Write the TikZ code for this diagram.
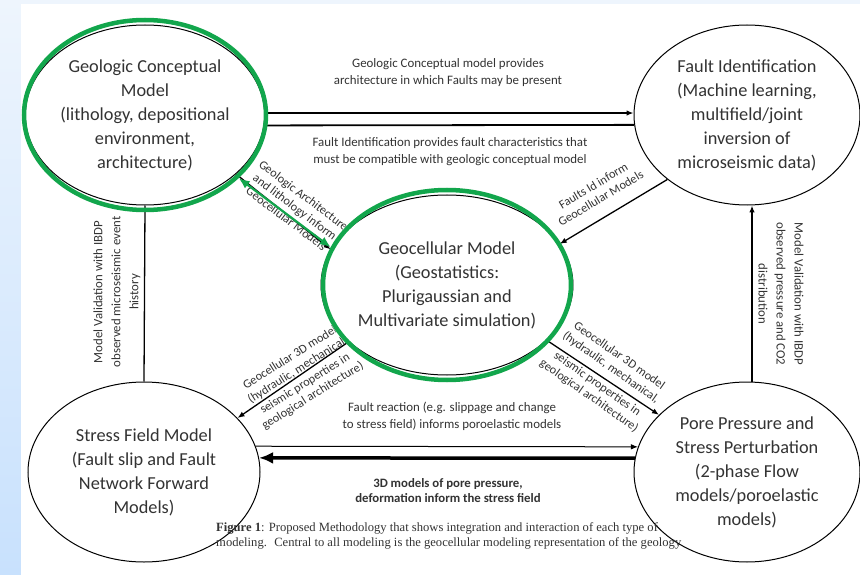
\documentclass[tikz,border=0pt]{standalone}
\usepackage{fontspec}
\setmainfont{Carlito}
\newfontfamily\capfont{Liberation Serif}
\usetikzlibrary{shapes.geometric, arrows.meta}

\definecolor{ringgreen}{RGB}{18,166,76}
\definecolor{txtgray}{HTML}{333333}
\definecolor{bgtop}{HTML}{EEF5FD}
\definecolor{bgbot}{HTML}{C8E1FD}

\tikzset{
  model/.style={draw, ellipse, line width=1pt, fill=white, text=txtgray, align=center,
    inner sep=0pt, minimum width=232pt, minimum height=180pt,
    font=\fontsize{18.3}{24}\selectfont},
  ring/.style={draw=ringgreen, ellipse, line width=4.5pt, inner sep=0pt},
  link/.style={->, line width=1.3pt},
  bigarrow/.style={{Latex[length=14pt, width=12pt]}-, line width=3.5pt},
  greenarrow/.style={{Latex[length=11pt, width=9pt]}-{Latex[length=11pt, width=9pt]}, draw=ringgreen, line width=2.2pt},
  lbl/.style={text=txtgray, align=center, inner sep=0pt, font=\fontsize{12.9}{17}\selectfont},
  dlbl/.style={text=txtgray, align=center, inner sep=0pt, font=\fontsize{12.3}{14.5}\selectfont},
}

\begin{document}
\begin{tikzpicture}[x=1pt, y=-1pt, >={Latex[length=7pt, width=5.5pt]}]
    % Background
    \useasboundingbox (0,0) rectangle (860,575);
    \shade[top color=bgtop, bottom color=bgbot] (0,0) rectangle (860,575);
    \fill[white] (21,4) rectangle (860,575);

    % Labels partly hidden behind the geocellular model
    \node[dlbl, rotate=-37] (lbl3) at (295,207) {Geologic Architecture\\and lithology inform\\Geocellular Models};
    \node[dlbl, rotate=32] (lbl7a) at (294,364) {Geocellular 3D model\\(hydraulic, mechanical,};
    \fill[white] (447,285) ellipse [x radius=126.5, y radius=97.5];

    % Models
    \node[model] (gc) at (145,115) {Geologic Conceptual\\Model\\(lithology, depositional\\environment,\\architecture)};
    \node[model, minimum width=226pt] (fi) at (747,115) {Fault Identification\\(Machine learning,\\multifield/joint\\inversion of\\microseismic data)};
    \node[model] (gm) at (447,285) {Geocellular Model\\(Geostatistics:\\Plurigaussian and\\Multivariate simulation)};
    \node[model] (sf) at (144,472) {Stress Field Model\\(Fault slip and Fault\\Network Forward\\Models)};
    \node[model, minimum width=226pt] (pp) at (747,472) {Pore Pressure and\\Stress Perturbation\\(2-phase Flow\\models/poroelastic\\models)};

    % Connectors
    \draw[link, line width=1.8pt] (gc.1) -- (fi.179);
    \draw[line width=1.8pt] (gc.-5) -- (fi.185);
    \draw[link] (gc.-33) -- (gm.163);
    \draw[link] (fi.219) -- (gm.20);
    \draw[line width=1.3pt] (gc.south) -- (sf.north);
    \draw[link] ([xshift=5pt]pp.north) -- ([xshift=5pt]fi.south);
    \draw[link] (gm.210) -- (sf.30);
    \draw[link] (gm.-29) -- (pp.147);
    \draw[link, line width=1pt] (sf.13) -- (pp.167);
    \draw[bigarrow] (sf.7) -- (pp.173);

    % Connector labels
    \node[lbl] (lbl1) at (448,73) {Geologic Conceptual model provides\\architecture in which Faults may be present};
    \node[lbl] (lbl2) at (450,152) {Fault Identification provides fault characteristics that\\must be compatible with geologic conceptual model};
    \node[dlbl, rotate=31] (lbl4) at (597,192) {Faults Id inform\\Geocellular Models};
    \node[lbl, rotate=90, font=\fontsize{12.8}{18}\selectfont] (lbl5) at (117,292) {Model Validation with IBDP\\observed microseismic event\\history};
    \node[lbl, rotate=-90, font=\fontsize{12.8}{18}\selectfont] (lbl6) at (781,294) {Model Validation with IBDP\\observed pressure and CO2\\distribution};
    \node[dlbl, rotate=32] (lbl7b) at (309,390) {seismic properties in\\geological architecture)};
    \node[dlbl, rotate=-35] (lbl8a) at (615,362) {Geocellular 3D model\\(hydraulic, mechanical,};
    \node[dlbl, rotate=-35] (lbl8b) at (593,390) {seismic properties in\\geological architecture)};
    \node[lbl] (lbl9) at (452,416) {Fault reaction (e.g. slippage and change\\to stress field) informs poroelastic models};
    \node[lbl, font=\bfseries\fontsize{12.8}{15.5}\selectfont] (lbl10) at (448,490.5) {3D models of pore pressure,\\deformation inform the stress field};

    % Caption
    \node[anchor=west, align=left, inner sep=0pt, text=txtgray, font=\capfont\fontsize{12.6}{15}\selectfont] (caption) at (216,535.5)
      {\textbf{Figure 1}: Proposed Methodology that shows integration and interaction of each type of\\modeling.~ Central to all modeling is the geocellular modeling representation of the geology};

    % Highlight rings
    \node[ring, minimum width=242pt, minimum height=190pt] (gcring) at (145,115) {};
    \node[ring, minimum width=248pt, minimum height=190pt] (gmring) at (447,285) {};
    \draw[greenarrow] (gcring.-34) -- (gmring.162);
\end{tikzpicture}
\end{document}
